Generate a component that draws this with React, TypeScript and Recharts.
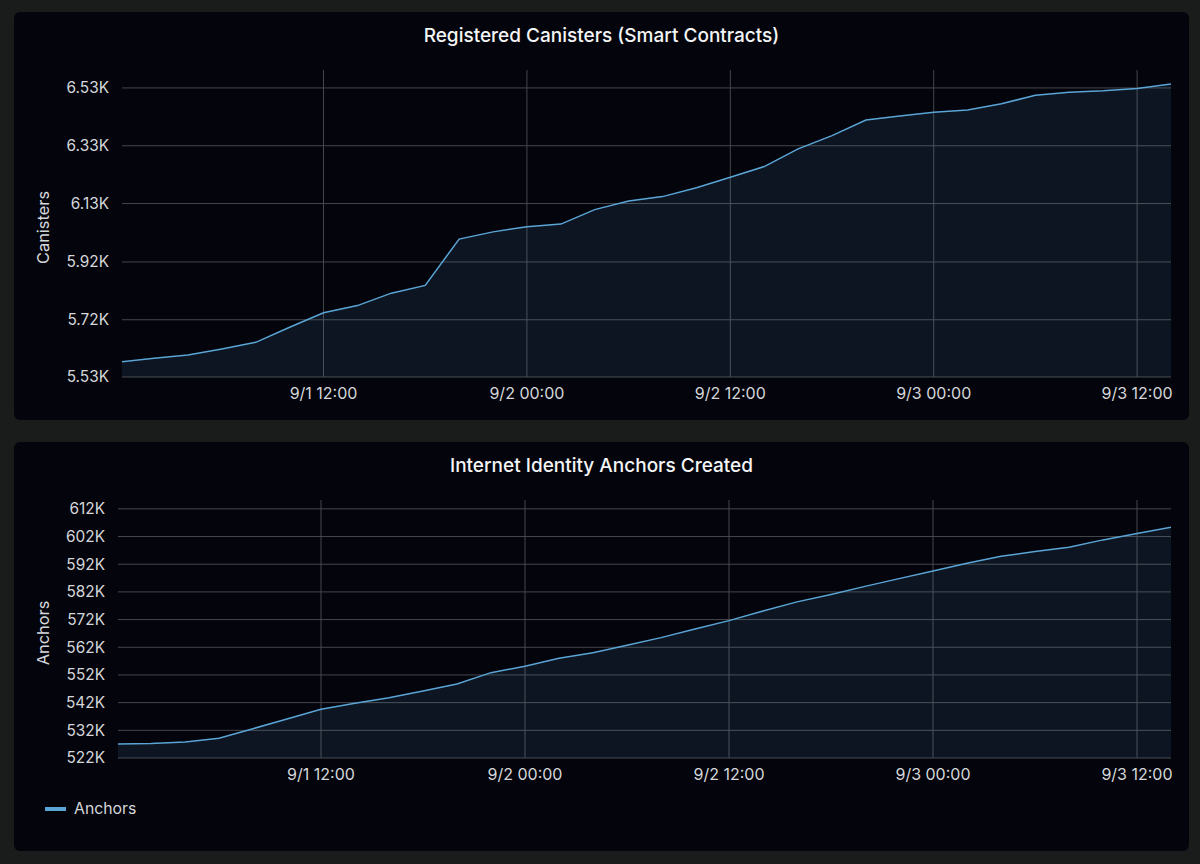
import { Area, AreaChart, CartesianGrid, Legend, XAxis, YAxis } from "recharts";

// hours since 9/1 00:00, one sample every two hours
const hours = [
  0, 2, 4, 6, 8, 10, 12, 14, 16, 18, 20, 22, 24, 26, 28, 30, 32, 34, 36, 38, 40, 42, 44, 46, 48,
  50, 52, 54, 56, 58, 60, 62,
];
const canisters = [
  5578, 5591, 5602, 5623, 5646, 5698, 5748, 5773, 5816, 5843, 6003, 6028, 6046, 6055, 6105, 6135,
  6150, 6181, 6217, 6254, 6315, 6361, 6415, 6429, 6442, 6450, 6471, 6501, 6511, 6516, 6524, 6540,
];
const anchors = [
  527.06, 527.24, 527.78, 529.12, 532.59, 536.09, 539.6, 541.77, 543.79, 546.21, 548.74, 552.83,
  555.14, 558.03, 560.06, 562.73, 565.48, 568.62, 571.62, 575.13, 578.4, 581.1, 584.0, 586.8,
  589.58, 592.36, 594.89, 596.56, 598.15, 600.79, 603.06, 605.37,
];
const timeTicks = [12, 24, 36, 48, 60];
const timeLabels = ["9/1 12:00", "9/2 00:00", "9/2 12:00", "9/3 00:00", "9/3 12:00"];
const canisterTicks = [5526, 5724, 5924, 6126, 6326, 6526];
const anchorTicks = [522, 532, 542, 552, 562, 572, 582, 592, 602, 612];

const FONT = "Inter, sans-serif";
const GRID = "#46484c";
const LINE = "#5aa5d6";
const TEXT = "#d5d7da";

const canisterData = hours.map((h, i) => ({ h, canisters: canisters[i] }));
const anchorData = hours.map((h, i) => ({ h, anchors: anchors[i] }));

const formatTime = (h: number) => timeLabels[timeTicks.indexOf(h)] ?? "";
const xTickStyle = { fill: TEXT, fontSize: 16, fontFamily: FONT };
const yTickStyle = { fill: TEXT, fontSize: 15.4, fontFamily: FONT };

function Panel({ top, height, title, children }: any) {
  return (
    <div
      style={{
        position: "absolute",
        left: 14,
        top,
        width: 1175,
        height,
        background: "#03040c",
        borderRadius: 6,
      }}
    >
      <div
        style={{
          position: "absolute",
          top: 11,
          left: 0,
          width: "100%",
          textAlign: "center",
          color: "#f4f5f6",
          fontFamily: FONT,
          fontWeight: 500,
          fontSize: 19,
          lineHeight: "25px",
        }}
      >
        {title}
      </div>
      {children}
    </div>
  );
}

function AnchorsLegend() {
  return (
    <div style={{ height: 50, display: "flex", alignItems: "flex-start", paddingLeft: 31, boxSizing: "border-box" }}>
      <span style={{ width: 21, height: 4, background: LINE, marginRight: 8, marginTop: 6 }} />
      <span style={{ color: TEXT, fontFamily: FONT, fontSize: 15.8, lineHeight: "16px" }}>Anchors</span>
    </div>
  );
}

function yLabel(value: string, dy: number) {
  return {
    value,
    angle: -90,
    position: "insideLeft" as const,
    offset: 29,
    dy,
    fill: TEXT,
    fontSize: 16.4,
    fontFamily: FONT,
    textAnchor: "middle",
  };
}

export default function App() {
  return (
    <div style={{ position: "fixed", left: 0, top: 0, width: 1200, height: 864, background: "#1a1c1c" }}>
      <Panel top={12} height={408} title="Registered Canisters (Smart Contracts)">
        <AreaChart width={1175} height={408} data={canisterData} margin={{ top: 58, right: 18, bottom: 0, left: 0 }}>
          <CartesianGrid stroke={GRID} strokeWidth={1} syncWithTicks />
          <XAxis
            dataKey="h"
            type="number"
            domain={[0.11, 62]}
            allowDataOverflow
            ticks={timeTicks}
            tickFormatter={formatTime}
            height={43}
            tick={xTickStyle}
            tickLine={false}
            axisLine={false}
            tickSize={0}
            tickMargin={11}
            interval={0}
          />
          <YAxis
            width={108}
            domain={[5526, 6588]}
            ticks={canisterTicks}
            tickFormatter={(v: number) => `${(v / 1000).toFixed(2)}K`}
            tick={yTickStyle}
            tickLine={false}
            axisLine={false}
            tickSize={0}
            tickMargin={13}
            interval={0}
            label={yLabel("Canisters", 4)}
          />
          <Area
            type="linear"
            dataKey="canisters"
            stroke={LINE}
            strokeWidth={1.5}
            fill={LINE}
            fillOpacity={0.11}
            dot={false}
            activeDot={false}
            isAnimationActive={false}
          />
        </AreaChart>
      </Panel>
      <Panel top={442} height={409} title="Internet Identity Anchors Created">
        <AreaChart width={1175} height={409} data={anchorData} margin={{ top: 58, right: 18, bottom: 0, left: 0 }}>
          <CartesianGrid stroke={GRID} strokeWidth={1} syncWithTicks />
          <XAxis
            dataKey="h"
            type="number"
            domain={[0.06, 62]}
            allowDataOverflow
            ticks={timeTicks}
            tickFormatter={formatTime}
            height={43}
            tick={xTickStyle}
            tickLine={false}
            axisLine={false}
            tickSize={0}
            tickMargin={11}
            interval={0}
          />
          <YAxis
            width={104}
            domain={[522, 615.2]}
            ticks={anchorTicks}
            tickFormatter={(v: number) => `${v}K`}
            tick={yTickStyle}
            tickLine={false}
            axisLine={false}
            tickSize={0}
            tickMargin={13}
            interval={0}
            label={yLabel("Anchors", 4)}
          />
          <Legend verticalAlign="bottom" content={<AnchorsLegend />} />
          <Area
            type="linear"
            dataKey="anchors"
            name="Anchors"
            stroke={LINE}
            strokeWidth={1.5}
            fill={LINE}
            fillOpacity={0.11}
            dot={false}
            activeDot={false}
            isAnimationActive={false}
          />
        </AreaChart>
      </Panel>
    </div>
  );
}
